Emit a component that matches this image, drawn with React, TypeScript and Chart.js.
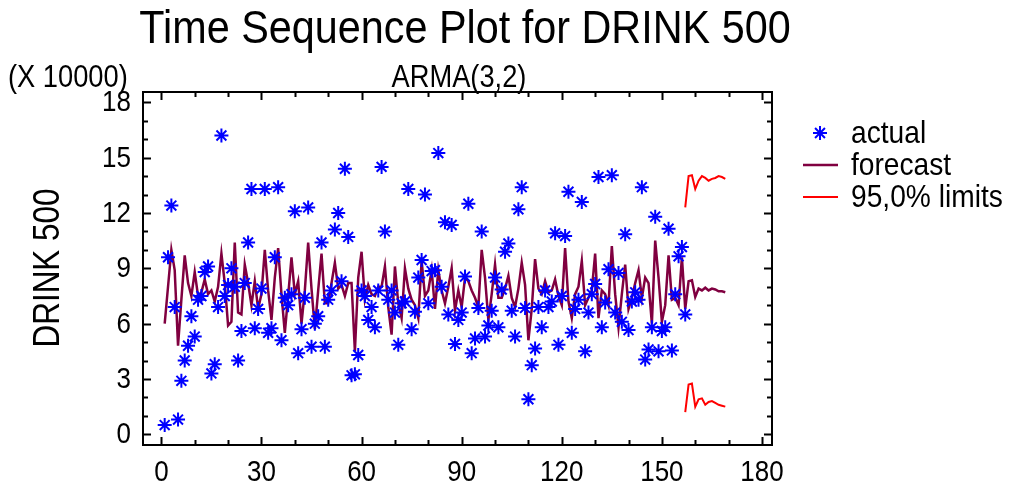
import React, { useEffect, useRef } from "react";
import { Chart, registerables } from "chart.js";

Chart.register(...registerables);

// ---- data (values in units of 10000) ----
const actualValues: number[] = [
  0.5, 9.6, 12.4, 6.9, 0.8, 2.9, 4.0, 4.8, 6.4, 5.3,
  7.3, 7.5, 8.8, 9.1, 3.3, 3.8, 6.9, 16.2, 7.5, 8.1,
  9.0, 8.0, 4.0, 5.6, 8.2, 10.4, 13.3, 5.75, 6.8, 7.9,
  13.3, 5.5, 5.75, 9.6, 13.4, 5.1, 7.4, 7.0, 7.6, 12.1,
  4.4, 5.7, 7.4, 12.3, 4.75, 6.0, 6.4, 10.4, 4.75, 7.3,
  7.8, 11.1, 12.0, 8.3, 14.4, 10.7, 3.2, 3.25, 4.3, 7.8,
  7.5, 6.2, 6.9, 5.8, 7.8, 14.5, 11.0, 7.3, 7.8, 6.6,
  4.85, 7.1, 7.2, 13.3, 5.7, 6.65, 8.5, 9.45, 13.0, 7.1,
  8.85, 8.9, 15.25, 8.0, 11.5, 6.5, 11.35, 4.9, 6.2, 6.6,
  8.55, 12.5, 4.4, 5.2, 6.85, 11.0, 5.3, 5.9, 6.7, 8.5,
  5.8, 7.85, 9.9, 10.35, 6.7, 5.3, 12.2, 13.4, 6.85, 1.9,
  3.75, 4.65, 6.9, 5.8, 7.8, 6.9, 7.2, 10.9, 4.85, 7.5,
  10.75, 13.15, 5.5, 6.8, 7.3, 12.6, 4.5, 6.6, 7.6, 8.15,
  13.95, 5.8, 7.15, 8.95, 14.05, 6.6, 8.75, 6.1, 10.85, 5.65,
  7.2, 7.7, 7.3, 13.4, 4.05, 4.6, 5.8, 11.8, 4.5, 5.6,
  5.8, 11.15, 4.55, 7.6, 9.65, 10.15, 6.5,
];

const forecastValues: number[] = [
  6.0, 8.0, 10.0, 8.9, 4.8, 7.3, 9.7, 8.2, 7.5, 8.8,
  7.5, 7.7, 8.4, 7.6, 7.8, 7.2, 8.0, 9.8, 8.2, 5.9,
  6.1, 10.4, 6.6, 6.5, 9.2, 8.2, 7.0, 8.3, 6.8, 7.6,
  10.0, 7.8, 6.2, 8.5, 10.1, 7.6, 5.5, 7.5, 9.6, 7.6,
  8.3, 6.0, 7.8, 10.4, 7.9, 5.7, 7.8, 9.8, 7.1, 7.1,
  8.2, 9.3, 7.9, 8.1, 7.5, 8.2, 8.2, 4.5, 8.5, 9.9,
  7.3, 8.1, 7.6, 7.5, 8.0, 8.0, 9.1, 6.9, 5.4, 9.1,
  7.1, 6.3, 9.0, 7.9, 7.3, 7.0, 6.3, 9.4, 7.5, 7.8,
  8.9, 6.8, 8.9, 7.8, 7.1, 8.0, 9.0, 6.7, 7.8, 6.9,
  8.5, 8.3, 7.8, 7.4, 6.9, 10.0, 8.5, 6.2, 7.6, 9.2,
  7.4, 7.4, 7.9, 8.6, 7.4, 6.9, 7.9, 9.3, 8.1, 5.1,
  6.8, 9.5, 7.9, 7.6, 8.3, 7.7, 7.8, 8.4, 7.5, 7.0,
  10.1, 7.2, 6.3, 7.6, 8.0, 9.4, 7.0, 7.4, 7.8, 9.8,
  6.3, 7.8, 7.6, 7.0, 10.2, 7.6, 5.8, 7.6, 9.2, 6.8,
  7.4, 8.2, 8.9, 7.4, 8.5, 8.2, 6.0, 10.5, 8.5, 6.1,
  7.0, 9.7, 7.3, 7.4, 7.0, 9.6, 6.8, 8.3, 8.35, 7.45,
  7.9, 7.8, 7.95, 7.8, 7.9, 7.85, 7.75, 7.75, 7.7,
];

const limitStart = 157;
const upperLimits: number[] = [12.3, 14.0, 14.05, 13.3, 13.75, 14.0, 13.9, 13.75, 13.85, 13.9, 14.0, 13.95, 13.85];
const lowerLimits: number[] = [1.2, 2.7, 2.75, 1.5, 1.9, 1.95, 1.6, 1.75, 1.8, 1.7, 1.6, 1.55, 1.5];

const xTickLabels: number[] = [0, 30, 60, 90, 120, 150, 180];
const yTickLabels: number[] = [0, 3, 6, 9, 12, 15, 18];

const titleText = "Time Sequence Plot for DRINK 500";
const subtitleText = "ARMA(3,2)";
const scaleText = "(X 10000)";
const yTitleText = "DRINK 500";
const legendLabels = ["actual", "forecast", "95,0% limits"];

const BLUE = "#0000FF";
const MAROON = "#800040";
const RED = "#FF0000";
const FONT = '"Liberation Sans", Arial, Helvetica, sans-serif';
const SX = 0.88;

function drawStar(ctx: CanvasRenderingContext2D, x: number, y: number, r: number) {
  ctx.beginPath();
  for (let k = 0; k < 4; k++) {
    const a = (k * Math.PI) / 4;
    ctx.moveTo(x - r * Math.cos(a), y - r * Math.sin(a));
    ctx.lineTo(x + r * Math.cos(a), y + r * Math.sin(a));
  }
  ctx.stroke();
}

function text(
  ctx: CanvasRenderingContext2D,
  s: string,
  x: number,
  y: number,
  size: number,
  align: CanvasTextAlign,
  baseline: CanvasTextBaseline,
  sx = SX
) {
  ctx.save();
  ctx.translate(x, y);
  ctx.scale(sx, 1);
  ctx.font = `${size}px ${FONT}`;
  ctx.textAlign = align;
  ctx.textBaseline = baseline;
  ctx.fillText(s, 0, 0);
  ctx.restore();
}

const decorPlugin = {
  id: "decor",
  afterDraw(chart: any) {
    const { ctx, chartArea: a, scales } = chart;
    const xs = scales.x;
    const ys = scales.y;
    ctx.save();
    // frame
    ctx.strokeStyle = "#000";
    ctx.lineWidth = 2;
    ctx.strokeRect(a.left, a.top, a.right - a.left, a.bottom - a.top);
    // ticks
    ctx.beginPath();
    for (let v = 0; v <= 180; v += 10) {
      const px = Math.round(xs.getPixelForValue(v)) + 0.5;
      const len = v % 30 === 0 ? 8 : 5;
      ctx.moveTo(px, a.bottom);
      ctx.lineTo(px, a.bottom - len);
      ctx.moveTo(px, a.top);
      ctx.lineTo(px, a.top + len);
    }
    for (let v = 0; v <= 18; v += 1) {
      const py = Math.round(ys.getPixelForValue(v)) + 0.5;
      const len = v % 3 === 0 ? 8 : 5;
      ctx.moveTo(a.left, py);
      ctx.lineTo(a.left + len, py);
      ctx.moveTo(a.right, py);
      ctx.lineTo(a.right - len, py);
    }
    ctx.stroke();

    ctx.fillStyle = "#000";
    // tick labels
    yTickLabels.forEach((v) => {
      text(ctx, String(v), a.left - 12, ys.getPixelForValue(v) + 1, 29.5, "right", "middle");
    });
    xTickLabels.forEach((v) => {
      text(ctx, String(v), xs.getPixelForValue(v), 481, 29.5, "center", "alphabetic");
    });

    // titles
    text(ctx, titleText, 465, 43, 47, "center", "alphabetic");
    text(ctx, subtitleText, 459, 87, 31, "center", "alphabetic");
    text(ctx, scaleText, 8, 87, 31, "left", "alphabetic");

    // y-axis title
    ctx.save();
    ctx.translate(59, 268);
    ctx.rotate(-Math.PI / 2);
    ctx.scale(0.85, 1);
    ctx.font = `37px ${FONT}`;
    ctx.textAlign = "center";
    ctx.textBaseline = "alphabetic";
    ctx.fillText(yTitleText, 0, 0);
    ctx.restore();

    // legend
    const lx = 851;
    const rows = [133, 165, 197];
    ctx.strokeStyle = BLUE;
    ctx.lineWidth = 2;
    drawStar(ctx, 820, rows[0], 7);
    ctx.strokeStyle = MAROON;
    ctx.lineWidth = 2.5;
    ctx.beginPath();
    ctx.moveTo(803, rows[1]);
    ctx.lineTo(838, rows[1]);
    ctx.stroke();
    ctx.strokeStyle = RED;
    ctx.lineWidth = 2;
    ctx.beginPath();
    ctx.moveTo(803, rows[2]);
    ctx.lineTo(838, rows[2]);
    ctx.stroke();
    ctx.fillStyle = "#000";
    legendLabels.forEach((t, i) => text(ctx, t, lx, rows[i] + 1, 32, "left", "middle"));
    ctx.restore();
  },
};

export default function App() {
  const ref = useRef<HTMLCanvasElement | null>(null);
  useEffect(() => {
    if (!ref.current) return;
    const actualPts = actualValues.map((v, i) => ({ x: i + 1, y: v }));
    const forecastPts = forecastValues.map((v, i) => ({ x: i + 1, y: v }));
    const upperPts = upperLimits.map((v, i) => ({ x: limitStart + i, y: v }));
    const lowerPts = lowerLimits.map((v, i) => ({ x: limitStart + i, y: v }));
    const chart = new Chart(ref.current, {
      type: "line",
      data: {
        datasets: [
          {
            label: "actual",
            data: actualPts,
            showLine: false,
            pointStyle: "star",
            pointRadius: 7,
            pointBorderWidth: 2,
            borderColor: BLUE,
            backgroundColor: BLUE,
            order: 0,
          },
          {
            label: "forecast",
            data: forecastPts,
            borderColor: MAROON,
            borderWidth: 2.5,
            pointRadius: 0,
            tension: 0,
            order: 1,
          },
          {
            label: "upper",
            data: upperPts,
            borderColor: RED,
            borderWidth: 2,
            pointRadius: 0,
            tension: 0,
            order: 2,
          },
          {
            label: "lower",
            data: lowerPts,
            borderColor: RED,
            borderWidth: 2,
            pointRadius: 0,
            tension: 0,
            order: 2,
          },
        ],
      },
      options: {
        responsive: false,
        animation: false,
        devicePixelRatio: 1,
        layout: { padding: { left: 143, top: 92, right: 237, bottom: 43 } },
        plugins: { legend: { display: false }, tooltip: { enabled: false }, title: { display: false } },
        scales: {
          x: { type: "linear", display: false, min: -5.5, max: 183 },
          y: { type: "linear", display: false, min: -0.58, max: 18.56 },
        },
      },
      plugins: [decorPlugin],
    });
    return () => chart.destroy();
  }, []);
  return (
    <div style={{ position: "absolute", left: 0, top: 0, width: 1009, height: 488, background: "#fff" }}>
      <canvas ref={ref} width={1009} height={488} style={{ display: "block" }} />
    </div>
  );
}
